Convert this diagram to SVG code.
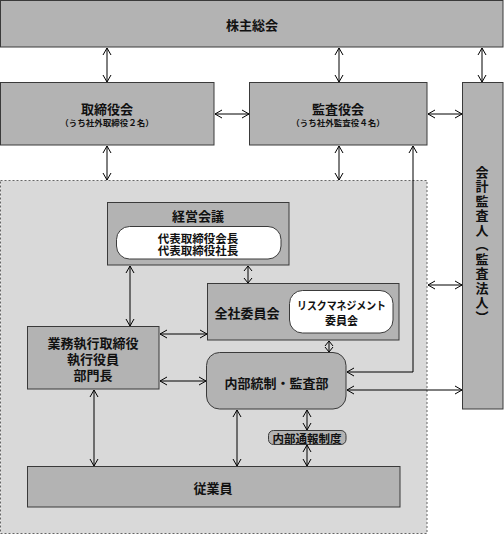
<svg xmlns="http://www.w3.org/2000/svg" width="504" height="536" viewBox="0 0 504 536">
<defs>
<marker id="ah" viewBox="-8 -5 10 10" refX="0" refY="0" markerWidth="10" markerHeight="10" markerUnits="userSpaceOnUse" orient="auto-start-reverse">
<path d="M-7,-4 L0,0 L-7,4" fill="none" stroke="#000" stroke-width="1"/>
</marker>
<marker id="ahs" viewBox="-8 -5 10 10" refX="0" refY="0" markerWidth="10" markerHeight="10" markerUnits="userSpaceOnUse" orient="auto-start-reverse">
<path d="M-5,-4 L0,0 L-5,4" fill="none" stroke="#000" stroke-width="1"/>
</marker>
<style>
.box{fill:#b3b3b3;stroke:#3a3a3a;stroke-width:1}
.wht{fill:#fff;stroke:#3a3a3a;stroke-width:1}
.t{font-family:"Noto Sans CJK JP","Noto Sans CJK SC",sans-serif;font-weight:bold;fill:#111;text-anchor:middle;dominant-baseline:central}
.l{fill:none;stroke:#000;stroke-width:1;marker-start:url(#ah);marker-end:url(#ah)}
.s{fill:none;stroke:#000;stroke-width:1;marker-start:url(#ahs);marker-end:url(#ahs)}
</style>
</defs>
<rect width="504" height="536" fill="#fff"/>
<g id="group-region">
<rect x="0.5" y="180.5" width="426.5" height="353" fill="#d9d9d9" stroke="#666" stroke-width="1" stroke-dasharray="2,2"/>
</g>
<g id="node-kabunushi">
<rect class="box" x="0.5" y="0.5" width="502.5" height="46.5"/>
<text class="t" x="252" y="24" font-size="13">株主総会</text>
</g>
<g id="node-torishimariyakukai">
<rect class="box" x="0.5" y="82.5" width="213.5" height="62.5"/>
<text class="t" x="107" y="108" font-size="13">取締役会</text>
<text class="t" x="107" y="122" font-size="8.5">（うち社外取締役２名）</text>
</g>
<g id="node-kansayakukai">
<rect class="box" x="249.5" y="82.5" width="177.5" height="62.5"/>
<text class="t" x="338" y="108" font-size="13">監査役会</text>
<text class="t" x="338" y="122" font-size="8.5">（うち社外監査役４名）</text>
</g>
<g id="node-kaikei">
<rect class="box" x="462.5" y="82.5" width="40.5" height="326.5"/>
<text class="t" x="482" y="245" font-size="13" style="writing-mode:vertical-rl;letter-spacing:1.5px">会計監査人（監査法人）</text>
</g>
<g id="node-keiei">
<rect class="box" x="107.5" y="202.5" width="181.5" height="62.5"/>
<text class="t" x="198" y="215" font-size="13">経営会議</text>
<rect class="wht" x="116.5" y="226.5" width="164.5" height="32.5" rx="13"/>
<text class="t" x="198" y="237.5" font-size="11.5">代表取締役会長</text>
<text class="t" x="198" y="249.5" font-size="11.5">代表取締役社長</text>
</g>
<g id="node-zensha">
<rect class="box" x="207.5" y="283.5" width="191.5" height="56.5"/>
<text class="t" x="247" y="312" font-size="13">全社委員会</text>
<rect class="wht" x="289.5" y="290.5" width="103.5" height="42.5" rx="13"/>
<text class="t" x="341.5" y="305" font-size="11" textLength="89" lengthAdjust="spacingAndGlyphs">リスクマネジメント</text>
<text class="t" x="341.5" y="320" font-size="11">委員会</text>
</g>
<g id="node-gyomu">
<rect class="box" x="27.5" y="326.5" width="131.5" height="62.5"/>
<text class="t" x="93" y="342" font-size="13">業務執行取締役</text>
<text class="t" x="93" y="358" font-size="13">執行役員</text>
<text class="t" x="93" y="374" font-size="13">部門長</text>
</g>
<g id="node-naibu">
<rect class="box" x="206.5" y="352.5" width="139.5" height="56.5" rx="13"/>
<text class="t" x="276.5" y="382" font-size="13">内部統制・監査部</text>
</g>
<g id="node-tsuho">
<rect class="box" x="268.5" y="430.5" width="77.5" height="14" rx="5"/>
<text class="t" x="307" y="437.5" font-size="11.5">内部通報制度</text>
</g>
<g id="node-jugyoin">
<rect class="box" x="27.5" y="466.5" width="372.5" height="40.5"/>
<text class="t" x="213" y="487" font-size="13">従業員</text>
</g>
<g id="connectors">
<line class="l" x1="107" y1="48" x2="107" y2="82"/>
<line class="l" x1="339" y1="48" x2="339" y2="82"/>
<line class="l" x1="482" y1="48" x2="482" y2="82"/>
<line class="l" x1="215" y1="114" x2="249" y2="114"/>
<line class="l" x1="428" y1="114" x2="462" y2="114"/>
<line class="l" x1="107" y1="146" x2="107" y2="180"/>
<line class="l" x1="339" y1="146" x2="339" y2="180"/>
<polyline class="l" points="413,146 413,372 347,372"/>
<line class="l" x1="428" y1="285" x2="462" y2="285"/>
<line class="l" x1="347" y1="390" x2="462" y2="390"/>
<line class="s" x1="248" y1="266" x2="248" y2="283"/>
<line class="l" x1="130" y1="266" x2="130" y2="326"/>
<line class="l" x1="160" y1="334" x2="207" y2="334"/>
<line class="l" x1="160" y1="381" x2="206" y2="381"/>
<line class="s" x1="329" y1="341" x2="329" y2="352"/>
<line class="l" x1="94" y1="390" x2="94" y2="466"/>
<line class="l" x1="237" y1="410" x2="237" y2="466"/>
<line class="l" x1="307" y1="410" x2="307" y2="430"/>
<line class="l" x1="307" y1="445" x2="307" y2="466"/>
</g>
</svg>
